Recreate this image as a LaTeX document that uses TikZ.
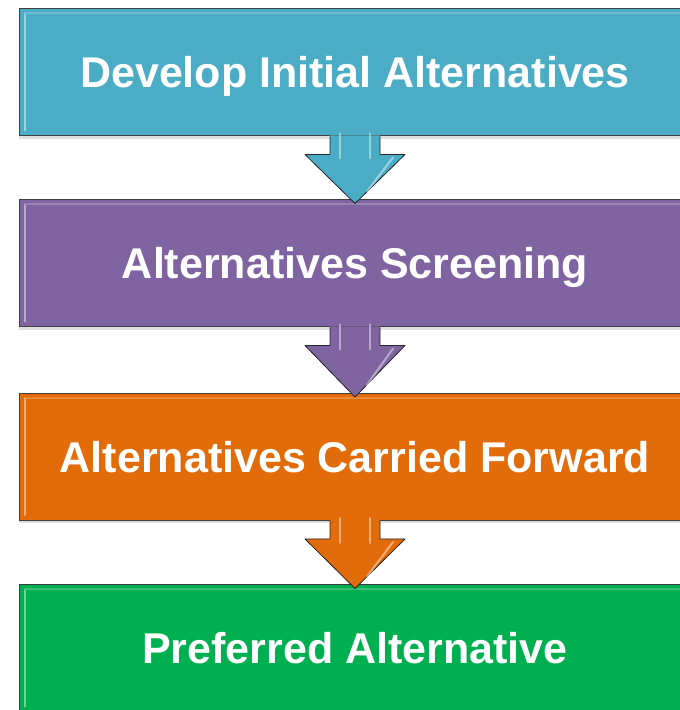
\documentclass[tikz,border=0pt]{standalone}
\usepackage{fontspec}
\setmainfont{Liberation Sans}
\usetikzlibrary{calc,shadows}
\definecolor{devcol}{HTML}{4BACC6}
\definecolor{scrcol}{HTML}{8064A2}
\definecolor{fwdcol}{HTML}{E36C0A}
\definecolor{prefcol}{HTML}{00B050}

\begin{document}
\begin{tikzpicture}[
            x=1pt,y=1pt,
            stage/.style={
                draw=black!75,line width=1pt,
                minimum width=672pt,minimum height=127pt,inner sep=0pt,
                text height=31pt,text depth=0pt,
                text=white,font=\fontsize{43}{50}\selectfont\bfseries,
                drop shadow={opacity=0.25,shadow xshift=0pt,shadow yshift=-3pt}
            },
            gloss/.style={white,opacity=0.45,line width=2pt,line cap=round}
        ]
            \useasboundingbox (0,0) rectangle (680,710);
            \node [stage,fill=devcol] (dev) at (355,637.5) {Develop Initial Alternatives};
            \node [stage,fill=scrcol] (scr) at (355,446.5) {Alternatives Screening};
            \node [stage,fill=fwdcol] (fwd) at (355,253) {Alternatives Carried Forward};
            \node [stage,fill=prefcol] (pref) at (355,61.5) {Preferred Alternative};
            % bevel on the left and top edges
            \foreach \n in {dev,scr,fwd,pref} {
                \draw [gloss] ($(\n.south west)+(6,6)$) -- ($(\n.north west)+(6,-6)$);
                \draw [gloss,opacity=0.2] ($(\n.north west)+(6,-5)$) -- ($(\n.north east)+(-6,-5)$);
            }
            % block arrows between the stages
            \foreach \a/\b/\c in {dev/scr/devcol,scr/fwd/scrcol,fwd/pref/fwdcol} {
                \fill [\c] ($(\a.south)+(-25,1)$)
                    -- ($(\a.south)+(-25,-18)$)
                    -- ($(\a.south)+(-50,-18)$)
                    -- ($(\b.north)+(0,-4)$)
                    -- ($(\a.south)+(50,-18)$)
                    -- ($(\a.south)+(25,-18)$)
                    -- ($(\a.south)+(25,1)$)
                    -- cycle
                ;
                \draw [black!85,line width=0.8pt,line join=round] ($(\a.south)+(-25,0)$)
                    -- ($(\a.south)+(-25,-18)$)
                    -- ($(\a.south)+(-50,-18)$)
                    -- ($(\b.north)+(0,-4)$)
                    -- ($(\a.south)+(50,-18)$)
                    -- ($(\a.south)+(25,-18)$)
                    -- ($(\a.south)+(25,0)$)
                ;
                \draw [gloss] ($(\a.south)+(-15,3)$) -- ($(\a.south)+(-15,-22)$);
                \draw [gloss] ($(\a.south)+(15,3)$) -- ($(\a.south)+(15,-22)$);
                \draw [gloss] ($(\a.south)+(38,-21)$) -- ($(\b.north)+(12,8)$);
            }
        \end{tikzpicture}
\end{document}
